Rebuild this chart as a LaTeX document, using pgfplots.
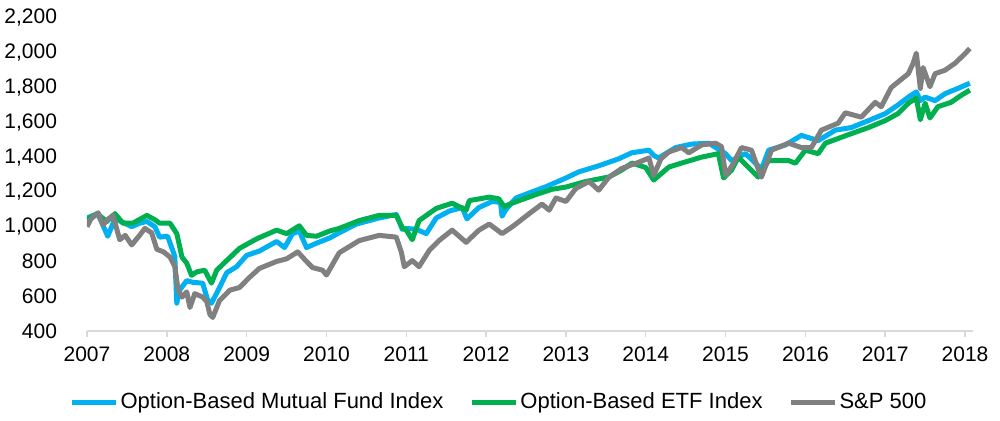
\documentclass[border=0pt]{standalone}
\usepackage{pgfplots}
\pgfplotsset{compat=1.18}
\usepackage{pgfplotstable}
\usepackage{fontspec}
\setmainfont{Liberation Sans}

\definecolor{mfblue}{HTML}{00B0F0}
\definecolor{etfgreen}{HTML}{00B050}
\definecolor{spgrey}{HTML}{808080}
\definecolor{axisgrey}{HTML}{D9D9D9}

% Option-Based Mutual Fund Index
\pgfplotstableread{
year value
2007.00 1050
2007.08 1065
2007.14 1070
2007.26 945
2007.35 1045
2007.45 1025
2007.56 1000
2007.66 1020
2007.75 1030
2007.85 1000
2007.91 940
2008.01 945
2008.10 830
2008.125 560
2008.16 635
2008.25 690
2008.325 680
2008.45 675
2008.51 580
2008.56 560
2008.66 650
2008.75 735
2008.875 770
2009.00 835
2009.16 860
2009.375 915
2009.475 880
2009.575 960
2009.66 975
2009.75 880
2009.875 905
2010.04 935
2010.16 965
2010.375 1015
2010.66 1050
2010.875 1070
2010.95 985
2011.00 990
2011.125 985
2011.25 960
2011.375 1050
2011.54 1090
2011.70 1110
2011.76 1045
2011.84 1080
2011.91 1110
2012.075 1145
2012.18 1140
2012.20 1060
2012.25 1100
2012.375 1165
2012.575 1200
2012.75 1230
2013.00 1280
2013.16 1315
2013.41 1350
2013.66 1390
2013.825 1425
2014.04 1440
2014.10 1410
2014.16 1395
2014.375 1455
2014.575 1475
2014.79 1480
2015.00 1420
2015.075 1380
2015.25 1420
2015.375 1365
2015.45 1330
2015.54 1440
2015.75 1470
2015.95 1525
2016.16 1495
2016.375 1555
2016.575 1570
2016.79 1610
2017.00 1650
2017.16 1700
2017.29 1745
2017.39 1775
2017.44 1725
2017.50 1745
2017.625 1725
2017.75 1765
2017.91 1795
2018.06 1825
}\mutualfund

% Option-Based ETF Index
\pgfplotstableread{
year value
2007.00 1040
2007.125 1075
2007.25 1030
2007.35 1075
2007.45 1020
2007.575 1020
2007.75 1065
2007.85 1040
2007.91 1020
2008.04 1020
2008.125 960
2008.19 825
2008.25 790
2008.31 720
2008.375 740
2008.475 750
2008.56 675
2008.625 750
2008.75 805
2008.91 875
2009.125 930
2009.375 980
2009.50 960
2009.66 1005
2009.75 950
2009.875 945
2010.04 975
2010.16 990
2010.41 1035
2010.66 1065
2010.875 1065
2010.95 995
2011.00 980
2011.075 925
2011.16 1035
2011.375 1105
2011.575 1135
2011.75 1095
2011.79 1150
2012.04 1170
2012.16 1160
2012.225 1115
2012.325 1135
2012.625 1185
2012.825 1215
2013.00 1228
2013.25 1260
2013.54 1286
2013.70 1326
2013.83 1366
2014.00 1340
2014.10 1268
2014.29 1343
2014.45 1366
2014.70 1400
2014.91 1420
2014.975 1280
2015.075 1325
2015.16 1400
2015.41 1285
2015.54 1380
2015.79 1380
2015.875 1365
2016.00 1440
2016.16 1420
2016.25 1480
2016.575 1535
2016.79 1570
2017.00 1610
2017.16 1650
2017.29 1710
2017.39 1740
2017.44 1615
2017.50 1710
2017.56 1625
2017.66 1690
2017.825 1715
2017.95 1755
2018.06 1785
}\etf

% S&P 500
\pgfplotstableread{
year value
2007.00 1000
2007.05 1045
2007.14 1080
2007.20 1010
2007.27 1045
2007.325 1065
2007.41 925
2007.48 950
2007.56 895
2007.65 945
2007.725 990
2007.81 965
2007.875 870
2007.96 855
2008.04 825
2008.10 770
2008.14 640
2008.19 595
2008.25 625
2008.29 535
2008.35 615
2008.45 595
2008.50 570
2008.54 495
2008.575 478
2008.66 575
2008.79 635
2008.91 650
2009.04 710
2009.16 760
2009.375 800
2009.50 815
2009.64 855
2009.75 800
2009.825 765
2009.95 750
2010.00 722
2010.16 850
2010.41 920
2010.66 950
2010.875 940
2010.94 850
2010.975 770
2011.075 805
2011.16 770
2011.29 865
2011.41 920
2011.575 980
2011.75 910
2011.91 980
2012.04 1015
2012.20 960
2012.33 1000
2012.54 1075
2012.70 1130
2012.79 1095
2012.875 1165
2013.00 1145
2013.125 1220
2013.29 1260
2013.41 1210
2013.54 1285
2013.70 1335
2013.91 1370
2014.04 1395
2014.10 1295
2014.19 1390
2014.29 1430
2014.45 1455
2014.54 1425
2014.70 1470
2014.875 1480
2014.95 1460
2015.00 1295
2015.08 1350
2015.20 1455
2015.325 1440
2015.41 1330
2015.45 1285
2015.575 1440
2015.79 1480
2015.95 1455
2016.075 1455
2016.20 1555
2016.41 1595
2016.50 1655
2016.70 1630
2016.875 1715
2016.95 1690
2017.075 1800
2017.29 1880
2017.35 1940
2017.39 1998
2017.44 1795
2017.475 1915
2017.56 1805
2017.625 1880
2017.75 1900
2017.875 1940
2018.00 1995
2018.06 2025
}\sp

\begin{document}
\begin{tikzpicture}
\useasboundingbox (0,0) rectangle (500pt,210pt);
\begin{axis}[
    at={(43.5pt,44.5pt)}, anchor=south west,
    scale only axis,
    width=443pt, height=156.5pt,
    xmin=2007, xmax=2018.1,
    ymin=400, ymax=2200,
    xtick={2007,2008,...,2018},
    ytick={400,600,...,2200},
    axis lines*=left,
    x axis line style={draw=axisgrey, line width=0.75pt},
    y axis line style={draw=none},
    xtick pos=bottom,
    tick align=outside,
    major tick length=3pt,
    x tick style={draw=axisgrey, line width=0.75pt},
    y tick style={draw=none},
    tick label style={font=\fontsize{10.5}{12}\selectfont},
    /pgf/number format/assume math mode=true,
    x tick label style={/pgf/number format/1000 sep={}, yshift=-1.5pt},
    y tick label style={/pgf/number format/1000 sep={,}, xshift=-8.5pt},
    legend columns=3,
    legend cell align=left,
    legend style={at={(axis description cs:0.465,-0.227)}, anchor=center,
        draw=none, fill=none, inner sep=0pt,
        font=\fontsize{11}{13}\selectfont,
        nodes={inner sep=1pt},
        /tikz/every even column/.append style={column sep=12pt}},
    legend image code/.code={\draw[#1, line width=2.5pt] (0pt,0pt) -- (22pt,0pt);},
    every axis plot/.append style={line width=2.5pt, line join=round, no markers},
]
\addplot[mfblue] table[x=year, y=value] {\mutualfund};
\addlegendentry{Option-Based Mutual Fund Index}
\addplot[etfgreen] table[x=year, y=value] {\etf};
\addlegendentry{Option-Based ETF Index}
\addplot[spgrey] table[x=year, y=value] {\sp};
\addlegendentry{S\&P 500}
\end{axis}
\end{tikzpicture}
\end{document}
